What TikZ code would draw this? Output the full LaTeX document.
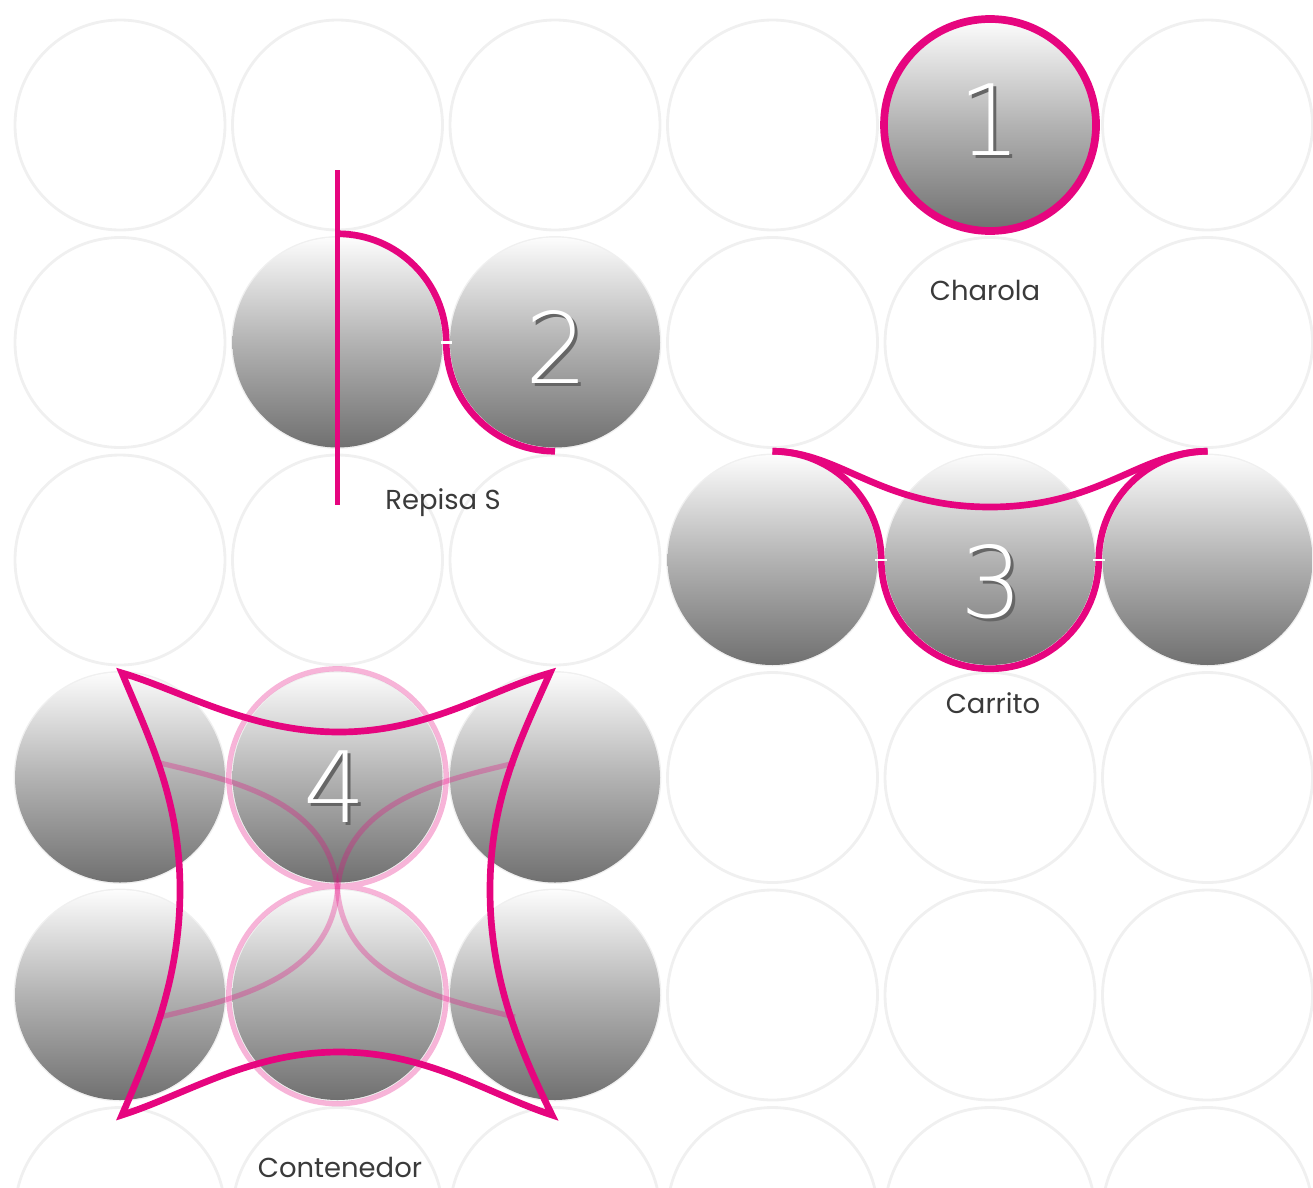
\documentclass[tikz,border=0pt]{standalone}
\usepackage{fontspec}
\setmainfont{Poppins}
\newfontfamily\numfont{DejaVu Sans ExtraLight}
\usepackage{tikz}
\usetikzlibrary{shapes}
\definecolor{rosa}{HTML}{E6057F}
\definecolor{texto}{HTML}{3A3A3A}
\tikzset{
  gridc/.style={draw=black!6, line width=.8pt},
  sphere/.style={circle, minimum size=21mm, inner sep=0pt,
    top color=black!1, bottom color=black!56, middle color=black!30},
  contorno/.style={rosa, line width=1.9pt},
  tenue/.style={rosa, line width=1.5pt, opacity=.3},
  etiqueta/.style={text=texto, font=\fontsize{7.8}{9}\selectfont},
  num/.style={text=white, font=\numfont\fontsize{28}{28}\selectfont},
  numsombra/.style={text=black!60, font=\numfont\fontsize{28}{28}\selectfont}
}
\begin{document}
\begin{tikzpicture}[x=0.1mm, y=0.1mm]
\useasboundingbox (0,0) rectangle (1313,1187);

\draw[gridc] (120,1062) circle (105) (337.5,1062) circle (105) (555,1062) circle (105) (772.5,1062) circle (105) (990,1062) circle (105) (1207.5,1062) circle (105);
\draw[gridc] (120,844.5) circle (105) (337.5,844.5) circle (105) (555,844.5) circle (105) (772.5,844.5) circle (105) (990,844.5) circle (105) (1207.5,844.5) circle (105);
\draw[gridc] (120,627) circle (105) (337.5,627) circle (105) (555,627) circle (105) (772.5,627) circle (105) (990,627) circle (105) (1207.5,627) circle (105);
\draw[gridc] (120,409.5) circle (105) (337.5,409.5) circle (105) (555,409.5) circle (105) (772.5,409.5) circle (105) (990,409.5) circle (105) (1207.5,409.5) circle (105);
\draw[gridc] (120,192) circle (105) (337.5,192) circle (105) (555,192) circle (105) (772.5,192) circle (105) (990,192) circle (105) (1207.5,192) circle (105);
\draw[gridc] (120,-25.5) circle (105) (337.5,-25.5) circle (105) (555,-25.5) circle (105) (772.5,-25.5) circle (105) (990,-25.5) circle (105) (1207.5,-25.5) circle (105);

% 1
\node[sphere] (s1) at (990,1062) {};
\draw[contorno, line width=2.2pt] (s1.center) circle (106);
\node[numsombra] (n1s) at (992.5,1064.5) {1};
\node[num] (n1) at (990,1067) {1};
\node[etiqueta] (charola) at (985,897) {Charola};

% 2
\node[sphere] (s2a) at (337.5,844.5) {};
\node[sphere] (s2b) at (555,844.5) {};
\draw[contorno] (337.5,953.25) arc (90:0:108.75) arc (180:270:108.75);
\draw[white, line width=.8pt] (441,844.5) -- (452,844.5);
\draw[rosa, line width=1.2pt] (337.5,1017) -- (337.5,682);
\node[numsombra] (n2s) at (559.5,837.5) {2};
\node[num] (n2) at (557,840) {2};
\node[etiqueta] (repisa) at (443,684) {Repisa S};

% 3
\node[sphere] (s3a) at (772.5,627) {};
\node[sphere] (s3b) at (990,627) {};
\node[sphere] (s3c) at (1207.5,627) {};
\draw[contorno] (772.5,735.75) arc (90:0:108.75) arc (180:360:108.75) arc (180:90:108.75);
\draw[contorno] (772.5,735.75) .. controls (840,735.75) and (880,680) .. (990,680) .. controls (1100,680) and (1140,735.75) .. (1207.5,735.75);
\draw[white, line width=.8pt] (875,627) -- (887,627) (1093,627) -- (1105,627);
\node[numsombra] (n3s) at (994.5,602.5) {3};
\node[num] (n3) at (992,605) {3};
\node[etiqueta] (carrito) at (993,484) {Carrito};

% 4
\node[sphere] (s4a) at (120,409.5) {};
\node[sphere] (s4b) at (337.5,409.5) {};
\node[sphere] (s4c) at (555,409.5) {};
\node[sphere] (s4d) at (120,192) {};
\node[sphere] (s4e) at (337.5,192) {};
\node[sphere] (s4f) at (555,192) {};
\draw[tenue] (s4b.center) circle (108.75) (s4e.center) circle (108.75);
\draw[tenue] (337.5,297) .. controls (330,387) and (230,407) .. (160,424);
\draw[tenue] (337.5,297) .. controls (345,387) and (445,407) .. (515,424);
\draw[tenue] (337.5,297) .. controls (330,207) and (230,187) .. (160,170);
\draw[tenue] (337.5,297) .. controls (345,207) and (445,187) .. (515,170);
\draw[contorno] (122,514) .. controls (180,497) and (250,455) .. (339,455) .. controls (428,455) and (490,497) .. (550,514)
  .. controls (520,447) and (490,387) .. (490,297) .. controls (490,207) and (520,137) .. (552,72)
  .. controls (490,92) and (428,135) .. (339,135) .. controls (250,135) and (185,92) .. (122,72)
  .. controls (150,137) and (180,207) .. (180,297) .. controls (180,387) and (150,447) .. (122,514) -- cycle;
\node[numsombra] (n4s) at (337.5,397.5) {4};
\node[num] (n4) at (335,400) {4};
\node[etiqueta] (contenedor) at (340,20) {Contenedor};

\node[etiqueta, anchor=east] (resto1) at (11,824) {a};
\node[etiqueta, anchor=east] (resto2) at (6,480) {o};

\end{tikzpicture}
\end{document}
